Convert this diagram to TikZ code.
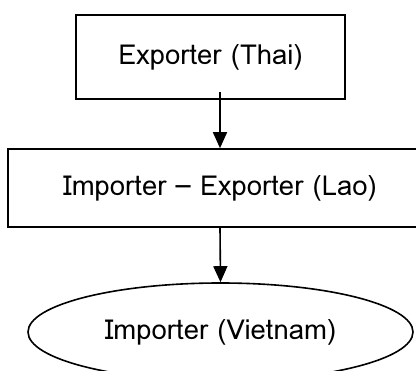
\documentclass[tikz,border=0pt]{standalone}
\usepackage{fontspec}
\setmainfont{Loma}
\usetikzlibrary{arrows.meta,shapes.geometric}
\begin{document}
\begin{tikzpicture}[x=1pt,y=1pt,
  every node/.style={font=\fontsize{27.5}{32}\selectfont, inner sep=0pt},
  boxstyle/.style={draw, line width=1.6pt, rectangle},
  ovalstyle/.style={draw, line width=1.6pt, ellipse},
  arrowstyle/.style={line width=1.6pt, -{Triangle[length=16pt,width=14pt]}}]
\useasboundingbox (0,0) rectangle (416,-371);
\clip (0,0) rectangle (416,-371);
\node[boxstyle, minimum width=269pt, minimum height=84pt] (b1) at (210.5,-57) {Exporter (Thai)};
\node[boxstyle, minimum width=424pt, minimum height=78pt] (b2) at (220,-188) {Importer – Exporter (Lao)};
\node[ovalstyle, minimum width=385pt, minimum height=98pt] (e1) at (220.5,-332) {Importer (Vietnam)};
\draw[arrowstyle] ([xshift=9.5pt,yshift=8pt]b1.south) -- (b2.north);
\draw[arrowstyle] (b2.south) -- (e1.north);
\end{tikzpicture}
\end{document}
